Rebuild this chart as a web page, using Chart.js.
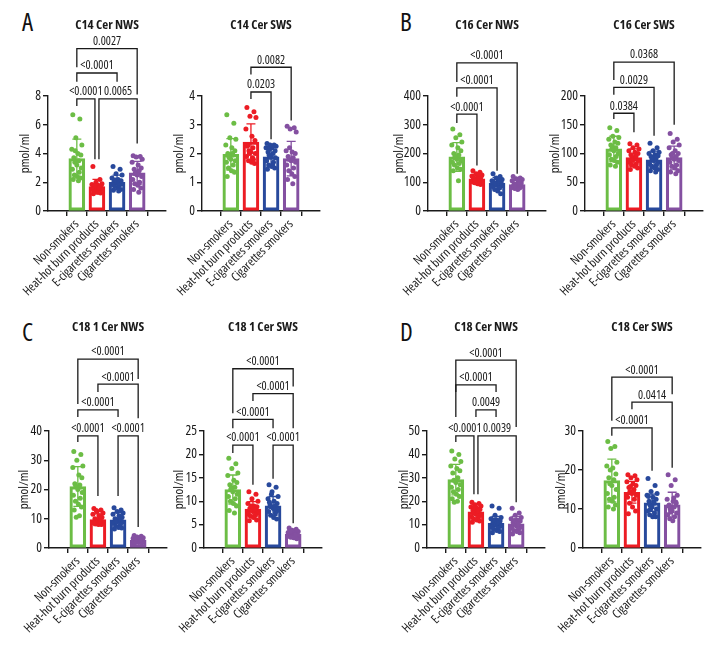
<!DOCTYPE html>
<html><head><meta charset="utf-8">
<script src="https://cdn.jsdelivr.net/npm/chart.js@4.4.1/dist/chart.umd.min.js"></script>
<style>
html,body{margin:0;padding:0;background:#fff;}
#wrap{position:relative;width:720px;height:648px;overflow:hidden;background:#fff;}
#wrap canvas{position:absolute;}
.letter{position:absolute;font-family:'Open Sans',sans-serif;font-stretch:condensed;font-size:25px;line-height:25px;color:#111;}
</style></head><body>
<div id="wrap">
<div class="letter" style="left:22px;top:9px">A</div>
<div class="letter" style="left:400px;top:9px">B</div>
<div class="letter" style="left:22px;top:319px">C</div>
<div class="letter" style="left:400px;top:319px">D</div>
</div>
<script>
// ---------- shared ----------
const GROUPS = ['Non-smokers','Heat-hot burn products','E-cigarettes smokers','Cigarettes smokers'];
const COLORS = ['#6cbd45','#ec1c24','#28499c','#8450a1'];

// ---------- A1: C14 Cer NWS ----------
const A1_TITLE = 'C14 Cer NWS';
const A1_YTICKS = [0,2,4,6,8];
const A1_MEAN = [3.65,1.7,2.0,2.65];
const A1_SD = [1.35,0.5,0.5,0.8];
const A1_POINTS = [
  [6.7,6.4,5.1,4.6,4.3,4.0,3.9,3.7,3.5,3.4,3.2,3.0,2.9,2.7,2.5,2.4,2.3,2.2,2.1,4.2],
  [3.1,2.2,2.0,1.9,1.85,1.8,1.7,1.7,1.65,1.6,1.55,1.5,1.5,1.4,1.35,1.3,1.25,1.2,1.6,1.75],
  [3.1,2.9,2.6,2.5,2.3,2.2,2.1,2.05,2.0,2.0,1.95,1.9,1.85,1.8,1.7,1.6,1.5,1.45,1.4,2.15],
  [3.85,3.8,3.75,3.6,3.4,3.2,3.0,2.9,2.8,2.6,2.5,2.4,2.2,2.0,1.9,1.8,1.6,1.5,1.3,2.7]
];
const A1_SIG = [[0,1,7.8,7.3,3.6,'<0.0001'],[1,3,7.8,3.6,4.7,'0.0065'],[0,2,9.6,9.0,9.0,'<0.0001'],[0,3,11.3,10.0,8.1,'0.0027']];

// ---------- A2: C14 Cer SWS ----------
const A2_TITLE = 'C14 Cer SWS';
const A2_YTICKS = [0,1,2,3,4];
const A2_MEAN = [1.97,2.4,1.88,1.82];
const A2_SD = [0.55,0.63,0.35,0.6];
const A2_POINTS = [
  [3.35,3.05,2.55,2.5,2.3,2.2,2.1,2.0,1.95,1.9,1.8,1.75,1.7,1.6,1.5,1.4,1.35,1.2,2.0,1.85],
  [3.6,3.45,3.3,3.25,2.85,2.6,2.45,2.3,2.2,2.1,2.05,2.0,1.9,1.8,1.75,1.7,1.65,2.25,1.85,2.0],
  [2.35,2.3,2.3,2.25,2.2,2.2,2.1,2.05,2.0,1.95,1.9,1.85,1.75,1.7,1.6,1.55,1.5,1.45,1.6,2.15],
  [2.95,2.9,2.85,2.75,2.1,2.05,2.0,1.9,1.85,1.8,1.75,1.7,1.6,1.5,1.4,1.3,1.2,1.1,0.95,2.2]
];
const A2_SIG = [[1,2,4.14,3.9,2.5,'0.0203'],[1,3,5.0,4.75,3.15,'0.0082']];

// ---------- B1: C16 Cer NWS ----------
const B1_TITLE = 'C16 Cer NWS';
const B1_YTICKS = [0,100,200,300,400];
const B1_MEAN = [188,112,97,92];
const B1_SD = [50,15,20,15];
const B1_POINTS = [
  [285,265,255,240,230,220,210,200,195,185,180,175,170,165,160,150,145,140,105,190],
  [140,135,130,125,122,120,118,115,112,110,108,105,102,100,98,95,92,115,128,106],
  [130,120,115,110,105,102,100,98,95,92,90,88,85,80,75,70,60,100,110,95],
  [120,115,112,110,105,100,98,95,92,90,88,85,82,80,78,75,95,88,100,85]
];
const B1_SIG = [[0,1,337,306,158,'<0.0001'],[0,2,428,397,140,'<0.0001'],[0,3,515,449,130,'<0.0001']];

// ---------- B2: C16 Cer SWS ----------
const B2_TITLE = 'C16 Cer SWS';
const B2_YTICKS = [0,50,100,150,200];
const B2_MEAN = [108,93,89,93];
const B2_SD = [22,15,15,20];
const B2_POINTS = [
  [145,140,130,128,125,120,118,115,110,108,105,100,98,95,90,88,85,80,78,112],
  [117,115,110,108,105,102,100,98,95,92,90,88,85,82,80,78,75,72,95,88],
  [118,110,105,102,100,98,96,95,92,90,88,85,82,80,78,75,72,70,68,92],
  [135,125,120,115,110,105,100,98,95,92,90,88,85,80,78,75,70,68,65,100]
];
const B2_SIG = [[0,1,170,160,137,'0.0384'],[0,2,215,202,131,'0.0029'],[0,3,259,228,150,'0.0368']];

// ---------- C1: C18 1 Cer NWS ----------
const C1_TITLE = 'C18 1 Cer NWS';
const C1_YTICKS = [0,10,20,30,40];
const C1_MEAN = [21,9.7,9.6,2.7];
const C1_SD = [6.8,2.0,2.5,0.7];
const C1_POINTS = [
  [33,32,30,28,27.5,25,24,22,21.5,21,20,19,18,17,16,15,14,13,11,10.5],
  [13.5,13,12.5,12,11.5,11,10.5,10,9.8,9.5,9.2,9,8.8,8.5,8.3,8,8,8.5,9,12.8],
  [13.8,13,12.5,12,11.5,11,10.5,10,9.8,9.5,9.2,9,8.5,8,7.5,7,6.8,6.5,10,9],
  [4.3,4,3.8,3.5,3.3,3.1,3,2.9,2.8,2.6,2.5,2.4,2.3,2.2,2,1.9,1.8,1.7,2.7,3.2]
];
const C1_SIG = [[0,1,38.3,36.2,17.8,'<0.0001'],[2,3,38.3,17.8,7.2,'<0.0001'],[0,2,47.2,44.8,44.8,'<0.0001'],[1,3,56,53.3,44.4,'<0.0001'],[0,3,64.6,49.2,57.8,'<0.0001']];

// ---------- C2: C18 1 Cer SWS ----------
const C2_TITLE = 'C18 1 Cer SWS';
const C2_YTICKS = [0,5,10,15,20,25];
const C2_MEAN = [12.5,8.3,9.0,3.0];
const C2_SD = [3.1,1.6,2.0,0.6];
const C2_POINTS = [
  [19.2,18,17,16,15.5,14.5,14,13.5,13,12.5,12,11.5,11,10.5,10,9.5,9,8,7.5,12.8],
  [12,11.5,10.5,10,9.5,9,8.8,8.5,8.3,8,7.8,7.5,7.2,7,6.8,6.5,6,5.8,8.2,9],
  [13.5,13,12,11,10.5,10,9.5,9.2,9,8.8,8.5,8,7.8,7.5,7,6.5,6.2,9.8,8.2,11.5],
  [4.3,4,3.8,3.5,3.3,3.2,3.1,3,2.9,2.8,2.7,2.6,2.5,2.4,2.3,2.2,2,3.4,2.8,3.6]
];
const C2_SIG = [[0,1,22.0,20.3,13.5,'<0.0001'],[2,3,22.0,14.8,5.3,'<0.0001'],[0,2,27.5,25.6,25.6,'<0.0001'],[1,3,33,31.4,25.6,'<0.0001'],[0,3,38.3,28.8,34.5,'<0.0001']];

// ---------- D1: C18 Cer NWS ----------
const D1_TITLE = 'C18 Cer NWS';
const D1_YTICKS = [0,10,20,30,40,50];
const D1_MEAN = [29.2,15.5,10.5,10.3];
const D1_SD = [6.5,3.0,3.0,3.2];
const D1_POINTS = [
  [41.5,40,38,37,35,34,33,32,30,29,28,27,26,25,24,23,22,21,20,19.5],
  [19.5,19,18.5,18,17.5,17,16.5,16,15.5,15,14.5,14,13.5,13,12.5,12,11.5,11,15.8,17.2],
  [18,17,14,13,12.5,12,11.5,11,10.5,10,9.8,9.5,9,8.5,8,7.5,7,6.5,10.8,12],
  [17,15,14,13,12.5,12,11.5,11,10.5,10,9.5,9,8.5,8,7.5,7,6.5,6,10.2,11.8]
];
const D1_SIG = [[0,1,47.9,45.3,23,'<0.0001'],[1,3,47.9,23,19.5,'0.0039'],[1,2,59,56,56,'0.0049'],[0,2,69.7,66.7,66.7,'<0.0001'],[0,3,80.3,56,51.7,'<0.0001']];

// ---------- D2: C18 Cer SWS ----------
const D2_TITLE = 'C18 Cer SWS';
const D2_YTICKS = [0,10,20,30];
const D2_MEAN = [17.3,14.3,11.6,11.1];
const D2_SD = [5.5,2.8,2.2,3.2];
const D2_POINTS = [
  [27.3,26,25.5,22,21,20.5,19,18,17.5,16.5,16,15,14,13,12.5,12,11,10.5,10,20],
  [18.8,18.5,18,17.5,17,16.5,16,15.5,15,14.5,14,13.5,13,12.5,11.5,10.5,9.5,8.8,14.2,15.8],
  [17.8,16,14.5,14,13.5,13,12.5,12,11.5,11,10.5,10,9.5,9,8.5,8,8,13.2,11.8,10],
  [18.8,17.5,16,13.5,12.5,12,11.5,11,10.5,10,9.5,9,8.5,8,7.5,7,11.8,10.8,12.8,9.2]
];
const D2_SIG = [[0,2,30.8,28.8,19.8,'<0.0001'],[1,3,37.4,35.6,20.6,'0.0414'],[0,3,43.8,32.6,39.4,'<0.0001']];

// ---------- layout / style ----------
const FAMILY = "'Open Sans', sans-serif";
const COND = 'condensed';   // font-stretch keyword, placed in the weight slot of the font shorthand
const INK = '#1a1a1a';
const JIT = [-0.2,0.15,-0.05,0.25,-0.25,0.05,0.2,-0.15,0.1,-0.1,0,0.22,-0.22,0.12,-0.12,0.03,0.18,-0.18,0.08,-0.08];
const ROW1 = {canvasTop:0, h:330, top:96, bottom:211, titleY:25};
const ROW2 = {canvasTop:310, h:338, top:431, bottom:548, titleY:327};

const CHARTS = [
  {title:A1_TITLE, yt:A1_YTICKS, mean:A1_MEAN, sd:A1_SD, pts:A1_POINTS, sig:A1_SIG, axisX:48,  row:ROW1, ytOff:23},
  {title:A2_TITLE, yt:A2_YTICKS, mean:A2_MEAN, sd:A2_SD, pts:A2_POINTS, sig:A2_SIG, axisX:202, row:ROW1, ytOff:23},
  {title:B1_TITLE, yt:B1_YTICKS, mean:B1_MEAN, sd:B1_SD, pts:B1_POINTS, sig:B1_SIG, axisX:428, row:ROW1, ytOff:29},
  {title:B2_TITLE, yt:B2_YTICKS, mean:B2_MEAN, sd:B2_SD, pts:B2_POINTS, sig:B2_SIG, axisX:585, row:ROW1, ytOff:30},
  {title:C1_TITLE, yt:C1_YTICKS, mean:C1_MEAN, sd:C1_SD, pts:C1_POINTS, sig:C1_SIG, axisX:49,  row:ROW2, ytOff:25},
  {title:C2_TITLE, yt:C2_YTICKS, mean:C2_MEAN, sd:C2_SD, pts:C2_POINTS, sig:C2_SIG, axisX:204, row:ROW2, ytOff:25},
  {title:D1_TITLE, yt:D1_YTICKS, mean:D1_MEAN, sd:D1_SD, pts:D1_POINTS, sig:D1_SIG, axisX:427, row:ROW2, ytOff:23},
  {title:D2_TITLE, yt:D2_YTICKS, mean:D2_MEAN, sd:D2_SD, pts:D2_POINTS, sig:D2_SIG, axisX:583, row:ROW2, ytOff:22}
];

const wrap = document.getElementById('wrap');
const YW = 45, AXLEN = 118, CW = 175;

function noPad(s){ s.paddingLeft = 0; s.paddingRight = 0; s.paddingTop = 0; s.paddingBottom = 0; }

function makeChart(spec){
  const row = spec.row;
  const cv = document.createElement('canvas');
  cv.width = CW; cv.height = row.h;
  cv.style.left = (spec.axisX - YW) + 'px';
  cv.style.top = row.canvasTop + 'px';
  wrap.appendChild(cv);

  const datasets = [{
    type:'bar',
    data: spec.mean.map((m,i)=>({x:i, y:m})),
    backgroundColor:'rgba(255,255,255,0)',
    borderColor: COLORS,
    borderWidth: 2.5,
    borderSkipped: false,
    barThickness: 16,
    order: 2
  }];
  spec.pts.forEach((arr,g)=>{
    datasets.push({
      type:'scatter',
      data: arr.map((v,k)=>({x:g + JIT[k % JIT.length], y:v})),
      backgroundColor: COLORS[g], borderColor: COLORS[g], borderWidth:0,
      pointRadius: 2.5, clip:false, order: 1
    });
  });

  const overlay = {
    id:'overlay',
    afterDatasetsDraw(chart){
      const ctx = chart.ctx, xs = chart.scales.x, ys = chart.scales.y, ca = chart.chartArea;
      ctx.save();
      // error bars (mean ± SD)
      spec.mean.forEach((m,g)=>{
        const x = xs.getPixelForValue(g);
        const yT = ys.getPixelForValue(m + spec.sd[g]);
        const yB = ys.getPixelForValue(m - spec.sd[g]);
        ctx.strokeStyle = COLORS[g]; ctx.lineWidth = 1.3;
        ctx.beginPath();
        ctx.moveTo(x, yT); ctx.lineTo(x, yB);
        ctx.moveTo(x-4.5, yT); ctx.lineTo(x+4.5, yT);
        ctx.moveTo(x-4.5, yB); ctx.lineTo(x+4.5, yB);
        ctx.stroke();
      });
      // significance brackets
      ctx.strokeStyle = INK; ctx.lineWidth = 1.3; ctx.fillStyle = INK;
      ctx.font = COND + ' 12px ' + FAMILY; ctx.textAlign = 'center'; ctx.textBaseline = 'bottom';
      spec.sig.forEach(s=>{
        const [a,b,yl,ya,yb,label] = s;
        let xa = xs.getPixelForValue(a), xb = xs.getPixelForValue(b);
        spec.sig.forEach(o=>{
          if (o !== s && o[2] === yl) {
            if (o[1] === a) xa += 2;
            if (o[0] === b) xb -= 2;
          }
        });
        const py = ys.getPixelForValue(yl);
        ctx.beginPath();
        ctx.moveTo(xa, ys.getPixelForValue(ya)); ctx.lineTo(xa, py);
        ctx.lineTo(xb, py); ctx.lineTo(xb, ys.getPixelForValue(yb));
        ctx.stroke();
        ctx.fillText(label, (xa+xb)/2, py - 1);
      });
      // title
      ctx.font = 'bold ' + COND + ' 13px ' + FAMILY; ctx.textBaseline = 'middle';
      ctx.fillText(spec.title, (ca.left + ca.right)/2, row.titleY - row.canvasTop);
      // y-axis title
      ctx.font = COND + ' 13px ' + FAMILY;
      ctx.translate(ca.left - spec.ytOff, (ca.top + ca.bottom)/2);
      ctx.rotate(-Math.PI/2);
      ctx.fillText('pmol/ml', 0, 0);
      ctx.restore();
    }
  };

  new Chart(cv, {
    type:'bar',
    data:{datasets},
    options:{
      responsive:false, animation:false, devicePixelRatio:1,
      layout:{padding:{left:0, right:CW - YW - AXLEN, top: row.top - row.canvasTop, bottom:0}},
      plugins:{legend:{display:false}, tooltip:{enabled:false}, title:{display:false}},
      scales:{
        x:{
          type:'linear', min:-0.7, max:3.7,
          afterBuildTicks: s=>{ s.ticks = [0,1,2,3].map(v=>({value:v})); },
          afterFit: s=>{ s.height = row.h - (row.bottom - row.canvasTop); noPad(s); },
          ticks:{minRotation:45, maxRotation:45, autoSkip:false, padding:1,
                 callback: v=>GROUPS[Math.round(v)], color:INK, font:{family:FAMILY, weight:COND, size:12.5}},
          grid:{drawOnChartArea:false, drawTicks:true, tickLength:5, color:INK, lineWidth:1.4},
          border:{display:true, color:INK, width:1.4}
        },
        y:{
          min: spec.yt[0], max: spec.yt[spec.yt.length-1],
          afterBuildTicks: s=>{ s.ticks = spec.yt.map(v=>({value:v})); },
          afterFit: s=>{ s.width = YW; noPad(s); },
          ticks:{padding:2, color:INK, font:{family:FAMILY, weight:COND, size:13.5}},
          grid:{drawOnChartArea:false, drawTicks:true, tickLength:5, color:INK, lineWidth:1.4},
          border:{display:true, color:INK, width:1.4}
        }
      }
    },
    plugins:[overlay]
  });
}

document.fonts.load('condensed 13px "Open Sans"').catch(()=>null).then(()=>{
  document.fonts.load('bold condensed 13px "Open Sans"').catch(()=>null).then(()=>{
    CHARTS.forEach(makeChart);
  });
});
</script>
</body></html>
